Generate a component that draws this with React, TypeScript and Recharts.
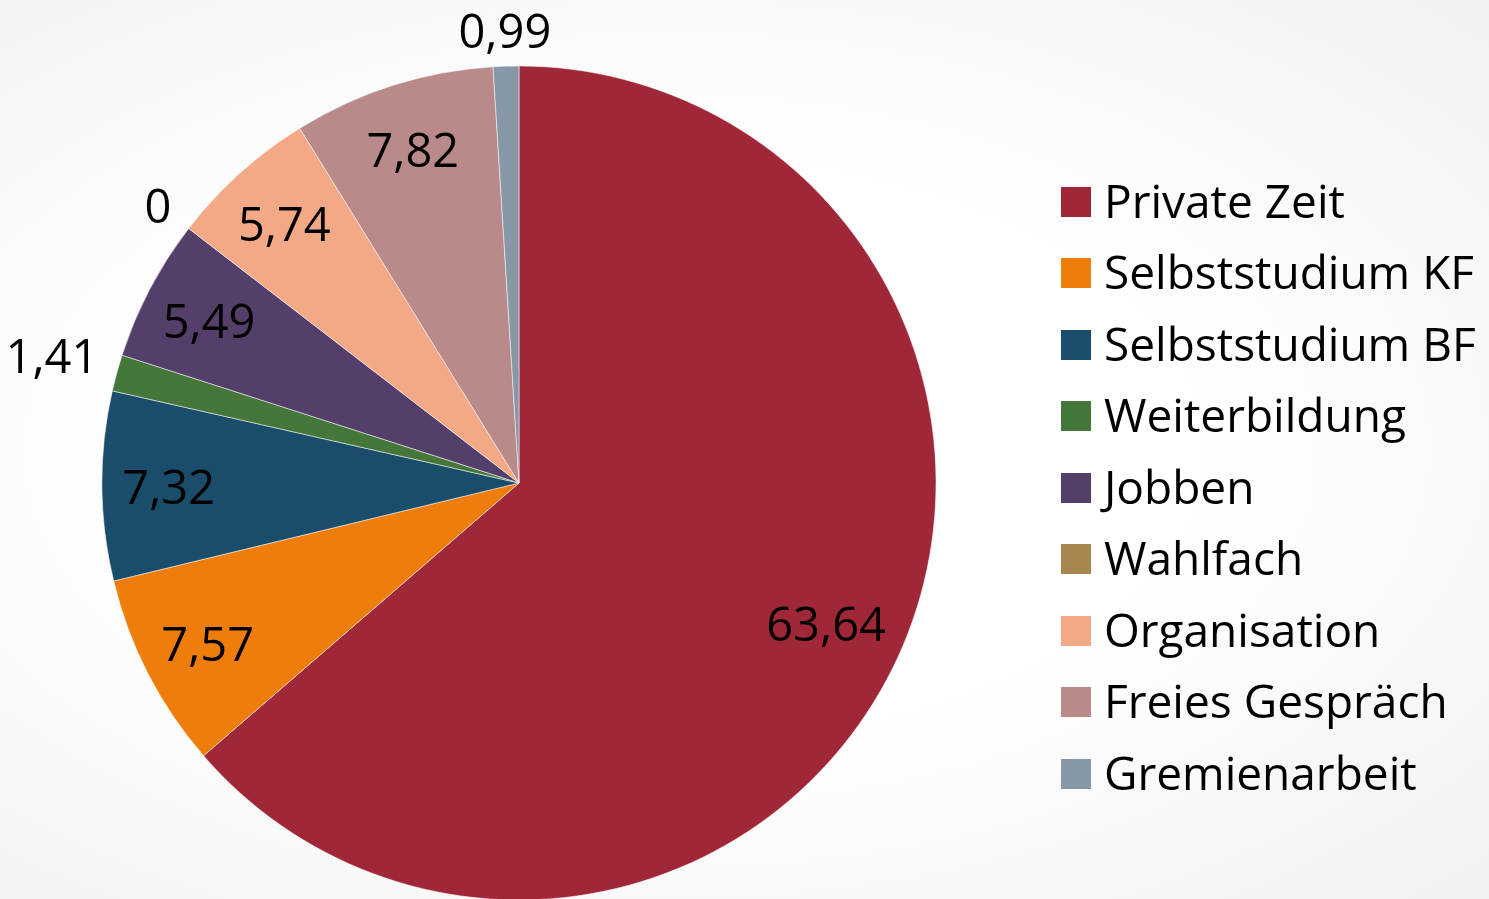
import React from 'react';
import { Cell, Legend, Pie, PieChart } from 'recharts';

// Anteile in Prozent
const categories = [
  'Private Zeit',
  'Selbststudium KF',
  'Selbststudium BF',
  'Weiterbildung',
  'Jobben',
  'Wahlfach',
  'Organisation',
  'Freies Gespräch',
  'Gremienarbeit',
];
const shares = [63.64, 7.57, 7.32, 1.41, 5.49, 0, 5.74, 7.82, 0.99];
const colors = ['#A02737', '#EF7D0C', '#1A4C6B', '#45763A', '#543F6A', '#A7854F', '#F3A886', '#BA898A', '#8797A8'];

const data = categories.map((name, i) => ({ name, value: shares[i] }));

const FONT = '"Open Sans", sans-serif';
const FS = 47;
const RAD = Math.PI / 180;

const fmt = (v: number) => (Number.isInteger(v) ? String(v) : v.toFixed(2).replace('.', ','));

// grobe Breite der Zahl, damit Labels sauber am Rand sitzen
const textWidth = (s: string) =>
  s.split('').reduce((w, ch) => w + (ch === ',' ? 0.27 : 0.57) * FS, 0);

const renderLabel = (props: any) => {
  const { cx, cy, midAngle, outerRadius, value, percent } = props;
  const text = fmt(value);
  const ux = Math.cos(-midAngle * RAD);
  const uy = Math.sin(-midAngle * RAD);
  const halfExtent = (Math.abs(ux) * textWidth(text)) / 2 + (Math.abs(uy) * FS * 0.7) / 2;
  let r = Math.min(outerRadius * 0.84, outerRadius - 18 - halfExtent);
  if (percent < 0.02) {
    r = outerRadius + 18 + halfExtent;
  }
  return (
    <text
      x={cx + r * ux}
      y={cy + r * uy}
      textAnchor="middle"
      dominantBaseline="central"
      fill="#000"
      fontSize={FS}
      fontFamily={FONT}
    >
      {text}
    </text>
  );
};

const renderLegend = () => (
  <div>
    {data.map((d, i) => (
      <div key={d.name} style={{ display: 'flex', alignItems: 'center', height: 71.5, position: 'relative' }}>
        <div style={{ width: 30, height: 30, background: colors[i], marginRight: 13, flexShrink: 0, position: 'relative', top: 2 }} />
        <span style={{ fontFamily: FONT, fontSize: 46, lineHeight: 1, color: '#000', whiteSpace: 'nowrap' }}>
          {d.name}
        </span>
      </div>
    ))}
  </div>
);

export default function App() {
  return (
    <div
      style={{
        position: 'fixed',
        left: 0,
        top: 0,
        width: 1489,
        height: 899,
        overflow: 'hidden',
        background: 'radial-gradient(ellipse at 45% 50%, #ffffff 45%, #f1f1f1 100%)',
      }}
    >
      <PieChart width={1489} height={899} margin={{ top: 0, right: 0, bottom: 0, left: 0 }}>
        <Pie
          data={data}
          dataKey="value"
          nameKey="name"
          cx={519}
          cy={483}
          outerRadius={417}
          startAngle={90}
          endAngle={-270}
          stroke="rgba(255,255,255,0.5)"
          strokeWidth={1}
          label={renderLabel}
          labelLine={false}
          isAnimationActive={false}
        >
          {data.map((d, i) => (
            <Cell key={d.name} fill={colors[i]} />
          ))}
        </Pie>
        <Legend
          layout="vertical"
          align="right"
          verticalAlign="top"
          content={renderLegend}
          wrapperStyle={{ left: 1061, top: 164, width: 428, right: 'auto' }}
        />
      </PieChart>
    </div>
  );
}
